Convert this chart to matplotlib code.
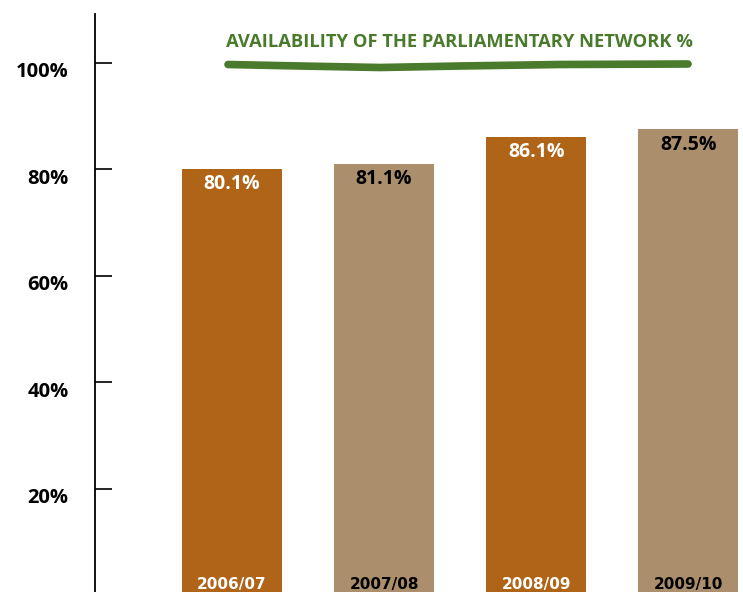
import matplotlib
matplotlib.use("Agg")
import matplotlib.pyplot as plt
from matplotlib.lines import Line2D
from matplotlib.transforms import ScaledTranslation

# Data
years = ["2006/07", "2007/08", "2008/09", "2009/10"]
availability = [80.1, 81.1, 86.1, 87.5]
ytick_values = [20, 40, 60, 80, 100]
ytick_labels = ["20%", "40%", "60%", "80%", "100%"]
title = "AVAILABILITY OF THE PARLIAMENTARY NETWORK %"

ORANGE = "#B06418"
TAN = "#AB8E6B"
GREEN = "#4A7A2C"
bar_colors = [ORANGE, TAN, ORANGE, TAN]
text_colors = ["white", "black", "white", "black"]

W, H = 743, 592
fig = plt.figure(figsize=(W / 100, H / 100), dpi=100)
fig.patch.set_facecolor("white")

ax = fig.add_axes([95 / W, 0, 1 - 95 / W, 1])
ax.set_facecolor("none")

xs = list(range(len(years)))
ax.bar(xs, availability, width=0.66, color=bar_colors, zorder=2)

ax.set_xlim(-0.90, 3.36)
ax.set_ylim(0.66, 111.8)

for s in ["top", "right", "bottom"]:
    ax.spines[s].set_visible(False)
ax.spines["left"].set_bounds(0, 109.2)
ax.spines["left"].set_linewidth(1.3)
ax.spines["left"].set_color("black")

ax.set_xticks([])
ax.set_yticks(ytick_values)
ax.set_yticklabels(ytick_labels)
ax.tick_params(axis="y", direction="in", length=12, width=1.2,
               pad=19, labelsize=14.5, colors="black")
shift = ScaledTranslation(0, -5 / 72, fig.dpi_scale_trans)
for lbl in ax.get_yticklabels():
    lbl.set_fontfamily(["Open Sans", "DejaVu Sans"])
    lbl.set_fontweight("bold")
    lbl.set_transform(lbl.get_transform() + shift)

# value labels near the top of each bar
for x, v, tc in zip(xs, availability, text_colors):
    ax.annotate(f"{v}%", xy=(x, v), xytext=(0, -11), textcoords="offset points",
                ha="center", va="center", fontsize=14, fontweight="bold",
                color=tc, family=["Open Sans", "DejaVu Sans"], zorder=3)

# year labels at the base of each bar
for x, yr, tc in zip(xs, years, text_colors):
    ax.text(x, 0.66, yr, ha="center", va="bottom", fontsize=11,
            fontweight="bold", color=tc,
            family=["Liberation Sans Narrow", "DejaVu Sans"], zorder=3)

# title with brush-stroke underline
fig.text(459.5 / W, 1 - 42 / H, title, ha="center", va="center",
         fontsize=13.2, fontweight="bold", color=GREEN,
         family=["Open Sans", "DejaVu Sans"])
stroke_x = [228, 300, 380, 460, 560, 688]
stroke_y = [64.5, 66, 67.5, 66, 64.5, 64]
fig.add_artist(Line2D([px / W for px in stroke_x], [1 - py / H for py in stroke_y],
                      transform=fig.transFigure, color=GREEN, linewidth=5.5,
                      solid_capstyle="round", solid_joinstyle="round"))

fig.savefig("out.png", dpi=100, facecolor="white")
